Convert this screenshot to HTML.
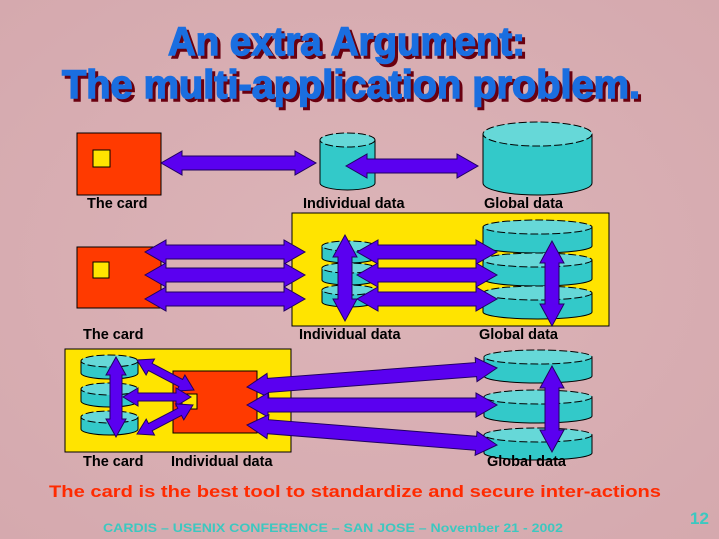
<!DOCTYPE html>
<html><head><meta charset="utf-8"><style>
html,body{margin:0;padding:0;background:#d9afb3;}
svg{display:block;}
</style></head><body>
<svg id="s" width="719" height="539" viewBox="0 0 719 539" xmlns="http://www.w3.org/2000/svg" font-family="Liberation Sans, sans-serif">
<defs>
<radialGradient id="bg" cx="50%" cy="50%" r="70%"><stop offset="0" stop-color="#dcb4b8"/><stop offset="1" stop-color="#d5a9ae"/></radialGradient>
</defs>
<rect width="719" height="539" fill="url(#bg)"/>
<g font-weight="bold" font-size="40" text-anchor="start">
<text x="171" y="58" textLength="357" lengthAdjust="spacingAndGlyphs" fill="#6a0010" stroke="#6a0010" stroke-width="1.5">An extra Argument:</text>
<text x="65" y="101" textLength="578" lengthAdjust="spacingAndGlyphs" fill="#6a0010" stroke="#6a0010" stroke-width="1.5">The multi-application problem.</text>
<text x="168" y="55" textLength="357" lengthAdjust="spacingAndGlyphs" fill="#1a6ee0" stroke="#1a6ee0" stroke-width="1.5">An extra Argument:</text>
<text x="62" y="98" textLength="578" lengthAdjust="spacingAndGlyphs" fill="#1a6ee0" stroke="#1a6ee0" stroke-width="1.5">The multi-application problem.</text>
</g>
<rect x="292" y="213" width="317" height="113" fill="#ffe400" stroke="#000" stroke-width="1"/>
<rect x="65" y="349" width="226" height="103" fill="#ffe400" stroke="#000" stroke-width="1"/>
<g id="shapes"></g>
<g font-size="14.5" font-weight="bold" fill="#000">
<text x="87" y="208">The card</text>
<text x="303" y="208">Individual data</text>
<text x="484" y="208">Global data</text>
<text x="83" y="339">The card</text>
<text x="299" y="339">Individual data</text>
<text x="479" y="339">Global data</text>
<text x="83" y="466">The card</text>
<text x="171" y="466">Individual data</text>
<text x="487" y="466">Global data</text>
</g>
<text x="49" y="497" font-size="17" font-weight="bold" fill="#ff2a00" textLength="612" lengthAdjust="spacingAndGlyphs">The card is the best tool to standardize and secure inter-actions</text>
<text x="103" y="532" font-size="12" font-weight="bold" fill="#3cc8c0" textLength="460" lengthAdjust="spacingAndGlyphs">CARDIS – USENIX CONFERENCE – SAN JOSE –  November 21 - 2002</text>
<text x="690" y="524" font-size="17" font-weight="bold" fill="#3cc8c0">12</text>
</svg>
<script>
var g=document.getElementById('shapes'),NS='http://www.w3.org/2000/svg';
function el(t,a){var e=document.createElementNS(NS,t);for(var k in a)e.setAttribute(k,a[k]);g.appendChild(e);return e;}
function cyl(x,y,w,h,ry){
 el('path',{d:'M'+x+' '+(y+ry)+' L'+x+' '+(y+h-ry)+' A'+w/2+' '+ry+' 0 0 0 '+(x+w)+' '+(y+h-ry)+' L'+(x+w)+' '+(y+ry)+' Z',fill:'#33c9c9',stroke:'#000','stroke-width':1});
 el('ellipse',{cx:x+w/2,cy:y+ry,rx:w/2,ry:ry,fill:'#66d8d8',stroke:'#000','stroke-width':1,'stroke-dasharray':'8 3'});
}
function card(x,y,w,h,sx,sy,ss){
 el('rect',{x:x,y:y,width:w,height:h,fill:'#ff3a00',stroke:'#000','stroke-width':1});
 el('rect',{x:sx,y:sy,width:ss,height:ss,fill:'#ffe400',stroke:'#000','stroke-width':1});
}
function arr(x1,y1,x2,y2,sw,hw,hl){
 var dx=x2-x1,dy=y2-y1,L=Math.hypot(dx,dy),ux=dx/L,uy=dy/L,px=-uy,py=ux;
 function P(a,b){return (x1+ux*a+px*b).toFixed(1)+','+(y1+uy*a+py*b).toFixed(1);}
 var pts=[P(0,0),P(hl,hw),P(hl,sw),P(L-hl,sw),P(L-hl,hw),P(L,0),P(L-hl,-hw),P(L-hl,-sw),P(hl,-sw),P(hl,-hw)];
 el('polygon',{points:pts.join(' '),fill:'#5a00f0',stroke:'#200060','stroke-width':1});
}
card(77,133,84,62,93,150,17);
cyl(320,133,55,57,7);
cyl(483,122,109,73,12);
arr(161,163,316,163,7,12,21);
arr(346,166,478,166,7,12,21);
card(77,247,84,61,93,262,16);
cyl(322,241,53,22,5);cyl(322,263,53,22,5);cyl(322,285,53,22,5);
cyl(483,220,109,33,7);cyl(483,253,109,33,7);cyl(483,286,109,33,7);
arr(145,252,305,252,7,12,21);arr(145,275,305,275,7,12,21);arr(145,299,305,299,7,12,21);
arr(357,252,497,252,7,12,21);arr(357,275,497,275,7,12,21);arr(357,299,497,299,7,12,21);
arr(345,235,345,321,7,12,22);
arr(552,241,552,326,7,12,22);
cyl(81,355,57,24,6);cyl(81,383,57,24,6);cyl(81,411,57,24,6);
cyl(484,350,108,33,7);cyl(484,390,108,33,7);cyl(484,428,108,32,7);
card(173,371,84,62,182,394,15);
arr(116,357,116,437,6,10,18);
arr(137,360,194,390,4,9,15);
arr(123,397,191,397,4,9,15);
arr(137,434,193,405,4,9,15);
arr(247,387,497,368,7,12,21);
arr(247,405,497,405,7,12,21);
arr(247,425,497,445,7,12,21);
arr(552,366,552,452,7,12,22);
</script>
</body></html>
